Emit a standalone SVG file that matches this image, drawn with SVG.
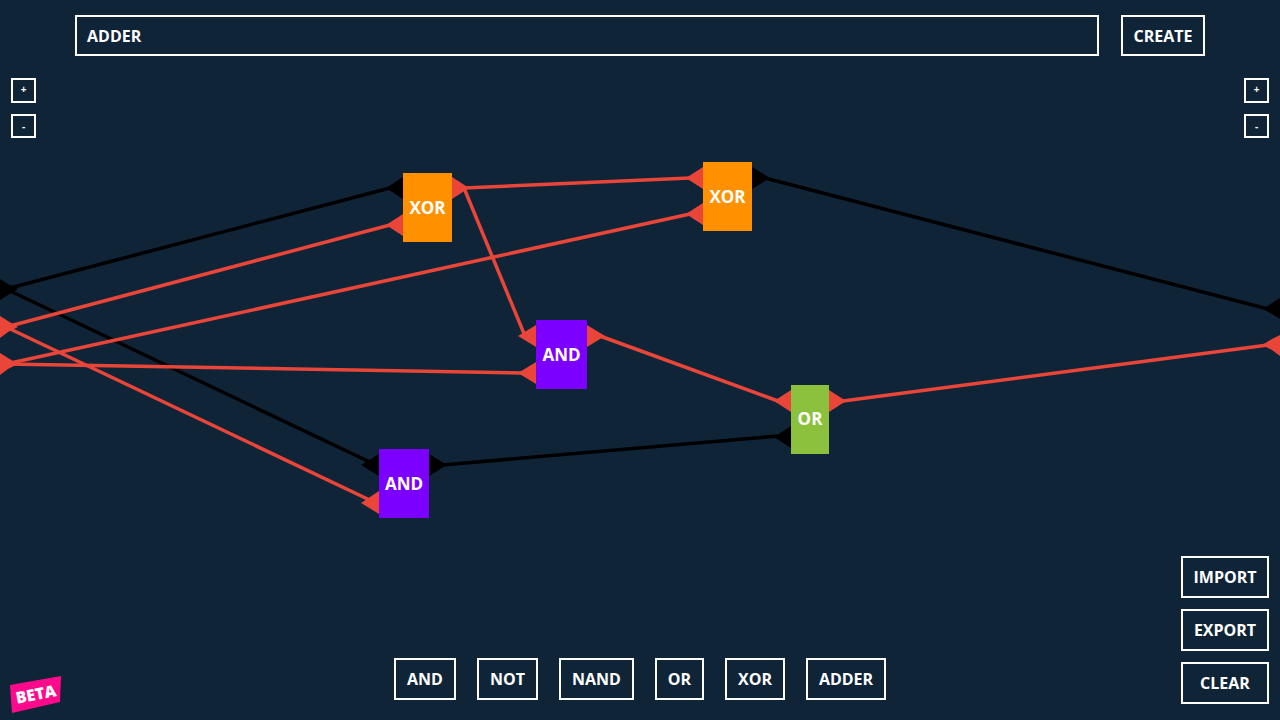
<svg xmlns="http://www.w3.org/2000/svg" width="1280" height="720" viewBox="0 0 1280 720">
<style>
text{font-family:"Open Sans","Noto Sans","Liberation Sans",sans-serif;font-weight:700;fill:#fff;text-anchor:middle}
.b{fill:none;stroke:#fff;stroke-width:2}
.t{font-size:16px}
.n{font-size:17px}
.z{font-size:10px}
.w{fill:none;stroke-width:3.5}
.k{stroke:#000}
.r{stroke:#ea4539}
.pk{fill:#000}
.pr{fill:#ea4539}
</style>
<rect width="1280" height="720" fill="#102438"/>
<g id="connectors">
<path class="w k" d="M6 289L390 188"/>
<path class="w k" d="M6 289L376 465"/>
<path class="w r" d="M6 327L390 225"/>
<path class="w r" d="M6 327L376 503"/>
<path class="w r" d="M6 364L690 214"/>
<path class="w r" d="M6 364L522 373"/>
<path class="w r" d="M464 188L690 178"/>
<path class="w r" d="M464 188L525 336"/>
<path class="w k" d="M765 178L1268 309"/>
<path class="w r" d="M600 336L778 401"/>
<path class="w k" d="M442 465L778 436"/>
<path class="w r" d="M843 401L1268 345"/>
<g class="pk"><polygon points="0,279 8,284 18,289 8,295 0,300"/><polygon points="1280,298 1272,303 1263,309 1272,314 1280,319"/></g>
<g class="pr"><polygon points="0,316 8,321 18,327 8,332 0,338"/><polygon points="0,353 8,358 18,364 8,369 0,375"/><polygon points="1280,335 1272,339 1262,345 1272,350 1280,356"/></g>
</g>
<g id="xor1">
<polygon class="pk" points="403,177 386,188 403,199"/><polygon class="pr" points="403,214 386,225 403,236"/><polygon class="pr" points="452,177 469,188 452,199"/>
<rect x="403" y="173" width="49" height="69" fill="#ff9100"/><text class="n" x="427.500" y="214">XOR</text>
</g>
<g id="xor2">
<polygon class="pr" points="703,167 686,178 703,189"/><polygon class="pr" points="703,203 686,214 703,225"/><polygon class="pk" points="752,167 770,178 752,189"/>
<rect x="703" y="162" width="49" height="69" fill="#ff9100"/><text class="n" x="727.500" y="203">XOR</text>
</g>
<g id="and1">
<polygon class="pr" points="536,325 518,336 536,347"/><polygon class="pr" points="536,362 518,373 536,384"/><polygon class="pr" points="587,325 605,336 587,347"/>
<rect x="536" y="320" width="51" height="69" fill="#7c00ff"/><text class="n" x="561.500" y="361">AND</text>
</g>
<g id="and2">
<polygon class="pk" points="379,454 361,465 379,476"/><polygon class="pr" points="379,491 361,503 379,514"/><polygon class="pk" points="429,454 447,465 429,476"/>
<rect x="379" y="449" width="50" height="69" fill="#7c00ff"/><text class="n" x="404" y="490">AND</text>
</g>
<g id="or1">
<polygon class="pr" points="791,390 774,401 791,412"/><polygon class="pk" points="791,426 774,437 791,448"/><polygon class="pr" points="829,390 846,401 829,412"/>
<rect x="791" y="385" width="38" height="69" fill="#8bc13d"/><text class="n" x="810" y="425">OR</text>
</g>
<g id="title"><rect class="b" x="76" y="16" width="1022" height="39"/><text class="t" x="87" y="42" style="text-anchor:start">ADDER</text></g>
<g id="create"><rect class="b" x="1122" y="16" width="82" height="39"/><text class="t" x="1163" y="42">CREATE</text></g>
<g id="zoom-l-plus"><rect class="b" x="12" y="79" width="23" height="23"/><text class="z" x="23.500" y="93">+</text></g>
<g id="zoom-l-minus"><rect class="b" x="12" y="115" width="23" height="22"/><text class="z" x="23.500" y="130">-</text></g>
<g id="zoom-r-plus"><rect class="b" x="1245" y="79" width="23" height="23"/><text class="z" x="1256.500" y="93">+</text></g>
<g id="zoom-r-minus"><rect class="b" x="1245" y="115" width="23" height="22"/><text class="z" x="1256.500" y="130">-</text></g>
<g id="import"><rect class="b" x="1182" y="557" width="86" height="40"/><text class="t" x="1225" y="583">IMPORT</text></g>
<g id="export"><rect class="b" x="1182" y="610" width="86" height="40"/><text class="t" x="1225" y="636">EXPORT</text></g>
<g id="clear"><rect class="b" x="1182" y="663" width="86" height="40"/><text class="t" x="1225" y="689">CLEAR</text></g>
<g id="tool-and"><rect class="b" x="395" y="659" width="60" height="40"/><text class="t" x="425" y="685">AND</text></g>
<g id="tool-not"><rect class="b" x="478" y="659" width="59" height="40"/><text class="t" x="507.500" y="685">NOT</text></g>
<g id="tool-nand"><rect class="b" x="560" y="659" width="73" height="40"/><text class="t" x="596.500" y="685">NAND</text></g>
<g id="tool-or"><rect class="b" x="656" y="659" width="47" height="40"/><text class="t" x="679.500" y="685">OR</text></g>
<g id="tool-xor"><rect class="b" x="726" y="659" width="58" height="40"/><text class="t" x="755" y="685">XOR</text></g>
<g id="tool-adder"><rect class="b" x="807" y="659" width="78" height="40"/><text class="t" x="846" y="685">ADDER</text></g>
<g id="beta"><polygon points="10,685 61,676 60,702 12,713" fill="#ff0a8c"/><text x="36" y="700" font-size="16" style="font-weight:800" transform="rotate(-11 36 695)">BETA</text></g>
</svg>
